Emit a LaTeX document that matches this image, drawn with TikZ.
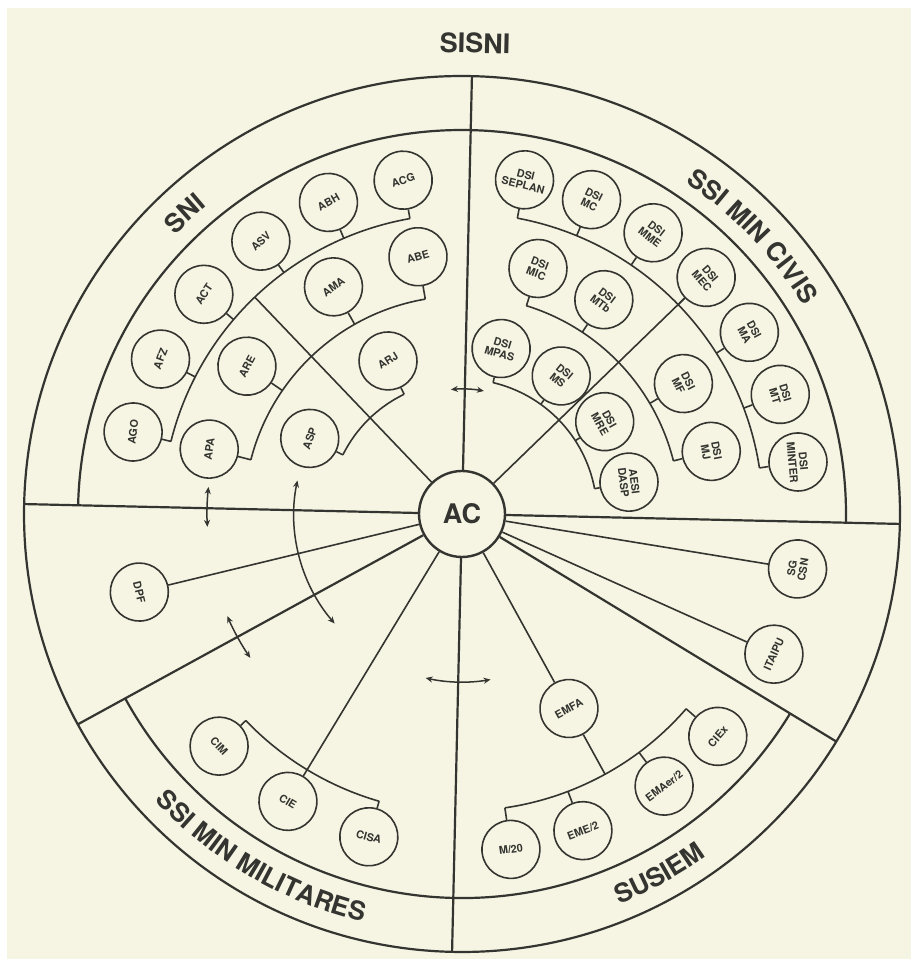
\documentclass[tikz,border=0pt]{standalone}
\usepackage{fontspec}
\setmainfont{TeX Gyre Heros}
\usetikzlibrary{arrows.meta,decorations.text}
\definecolor{paper}{RGB}{246,245,227}
\definecolor{ink}{RGB}{52,52,48}
\begin{document}
\begin{tikzpicture}[x=1pt,y=1pt,
  org/.style={circle, draw=ink, line width=1.6pt, fill=paper, minimum size=58pt, inner sep=0pt, text=ink, font=\fontsize{10.8}{11}\selectfont\bfseries, align=center},
  nup/.style={org, rotate=#1-85},
  nciv/.style={org, rotate=#1-95},
  ndn/.style={org, rotate=#1-271.3},
  conn/.style={draw=ink, line width=1.6pt},
  bound/.style={draw=ink, line width=2.2pt},
  dbl/.style={draw=ink, line width=1.5pt, {Stealth[length=7pt,width=6pt]}-{Stealth[length=7pt,width=6pt]}},
  ringtext/.style={decorate, decoration={text along path, text color=ink, text align=center, text={|\fontsize{26}{26}\selectfont\bfseries|#1}}}
]
\fill[white] (0,0) rectangle (911,969);
\fill[paper] (7,10) rectangle (911,961);
\useasboundingbox (0,0) rectangle (911,969);
\begin{scope}[shift={(462,455)}, rotate=-1.3]
  % central node
  \node[circle, draw=ink, line width=2.4pt, fill=paper, minimum size=86pt, inner sep=0pt, text=ink, font=\fontsize{27}{27}\selectfont\bfseries] (ac) at (0,0) {AC};
  % rings
  \draw[bound] (0,0) circle[radius=438];
  \draw[bound] (0:384) arc[start angle=0, end angle=180, radius=384];
  \draw[bound] (210:384) arc[start angle=210, end angle=330, radius=384];
  \foreach \a in {0,90,180,210,270,330} {
    \coordinate (edge\a) at (\a:438);
    \draw[bound] (ac) -- (edge\a);
  }
  % title
  \node[font=\fontsize{27}{27}\selectfont\bfseries, text=ink, rotate=-1.3] (sisni) at (89.7:471) {SISNI};
  % ring labels
  \path[ringtext={SNI}] (154:400) arc[start angle=154, end angle=114, radius=400];
  \path[ringtext={SSI MIN CIVIS}] (75:400) arc[start angle=75, end angle=15, radius=400];
  \path[ringtext={SSI MIN MILITARES}] (200:420) arc[start angle=200, end angle=282, radius=420];
  \path[ringtext={SUSIEM}] (270:421) arc[start angle=270, end angle=330, radius=421];

  % ---------- SNI ----------
  \foreach \n/\a/\t in {acg/101.3/ACG, abh/114.5/ABH, asv/127.7/ASV, act/140.9/ACT, afz/154.1/AFZ, ago/167.3/AGO} {
    \node[nup=\a] (\n) at (\a:339) {\t};
    \draw[conn] (\n) -- (\a:300);
  }
  \draw[conn] (101.3:300) arc[start angle=101.3, end angle=167.3, radius=300];
  \foreach \n/\a/\t in {abe/101/ABE, ama/120.8/AMA, are/146.8/ARE, apa/166.9/APA} {
    \node[nup=\a] (\n) at (\a:261) {\t};
    \draw[conn] (\n) -- (\a:218);
  }
  \draw[conn] (101:218) arc[start angle=101, end angle=166.9, radius=218];
  \foreach \n/\a/\t in {arj/117.1/ARJ, asp/154.9/ASP} {
    \node[nup=\a] (\n) at (\a:170) {\t};
    \draw[conn] (\n) -- (\a:133);
  }
  \draw[conn] (117.1:133) arc[start angle=117.1, end angle=154.9, radius=133];
  \coordinate (sniroot) at (135:300);
  \draw[conn] (ac) -- (sniroot);

  % ---------- SSI MIN CIVIS ----------
  \foreach \n/\a/\t in {seplan/80.7/{DSI\\SEPLAN}, mc/68.9/{DSI\\MC}, mme/57.1/{DSI\\MME}, mec/45.4/{DSI\\MEC}, ma/33.6/{DSI\\MA}, mt/21.9/{DSI\\MT}, minter/10.1/{DSI\\MINTER}} {
    \node[nciv=\a] (\n) at (\a:340) {\t};
    \draw[conn] (\n) -- (\a:301);
  }
  \draw[conn] (80.7:301) arc[start angle=80.7, end angle=10.1, radius=301];
  \draw[conn] (ac) -- (mec);
  \foreach \n/\a/\t in {mic/74.1/{DSI\\MIC}, mtb/57.8/{DSI\\MTb}, mf/31.8/{DSI\\MF}, mj/15.4/{DSI\\MJ}} {
    \node[nciv=\a] (\n) at (\a:257) {\t};
    \draw[conn] (\n) -- (\a:218);
  }
  \draw[conn] (74.1:218) arc[start angle=74.1, end angle=15.4, radius=218];
  \foreach \n/\a/\t in {mpas/78/{DSI\\MPAS}, ms/55.6/{DSI\\MS}, mre/34.2/{DSI\\MRE}, dasp/12.1/{AESI\\DASP}} {
    \node[nciv=\a] (\n) at (\a:170) {\t};
    \draw[conn] (\n) -- (\a:135);
  }
  \draw[conn] (78:135) arc[start angle=78, end angle=12.1, radius=135];

  % ---------- DPF ----------
  \node[ndn=194.9] (dpf) at (194.9:332) {DPF};
  \draw[conn] (ac) -- (dpf);

  % ---------- SSI MIN MILITARES ----------
  \foreach \n/\a/\t in {cim/225/CIM, cie/240.1/CIE, cisa/255.2/CISA} {
    \node[ndn=\a] (\n) at (\a:336) {\t};
    \draw[conn] (\n) -- (\a:299);
  }
  \draw[conn] (225:299) arc[start angle=225, end angle=255.2, radius=299];
  \coordinate (milroot) at (240.1:299);
  \draw[conn] (ac) -- (milroot);

  % ---------- SUSIEM ----------
  \foreach \n/\a/\t in {mtwo/279.6/{M/20}, eme/292.2/{EME/2}, emaer/307.9/{EMAer/2}, ciex/320.3/CIEx} {
    \node[ndn=\a] (\n) at (\a:339) {\t};
    \draw[conn] (\n) -- (\a:297);
  }
  \draw[conn] (279.6:297) arc[start angle=279.6, end angle=320.3, radius=297];
  \node[ndn=300.1] (emfa) at (300.1:222) {EMFA};
  \draw[conn] (ac) -- (emfa);
  \coordinate (susroot) at (300.1:297);
  \draw[conn] (emfa) -- (susroot);

  % ---------- others ----------
  \node[ndn=337.1] (itaipu) at (337.1:342) {ITAIPU};
  \node[ndn=352] (sgcsn) at (352:340) {SG\\CSN};
  \draw[conn] (ac) -- (itaipu);
  \draw[conn] (ac) -- (sgcsn);

  % ---------- exchange arrows ----------
  \coordinate (x1) at (96.4:125);
  \draw[dbl] (x1) arc[start angle=96.4, end angle=81.2, radius=125];
  \coordinate (x2) at (169.8:168);
  \draw[dbl] (x2) arc[start angle=169.8, end angle=222, radius=168];
  \coordinate (x3) at (175.2:255);
  \draw[dbl] (x3) arc[start angle=175.2, end angle=184.2, radius=255];
  \coordinate (x4) at (204.8:256);
  \draw[dbl] (x4) arc[start angle=204.8, end angle=215.5, radius=256];
  \coordinate (x5) at (258.8:168);
  \draw[dbl] (x5) arc[start angle=258.8, end angle=281.1, radius=168];
\end{scope}
\end{tikzpicture}
\end{document}
